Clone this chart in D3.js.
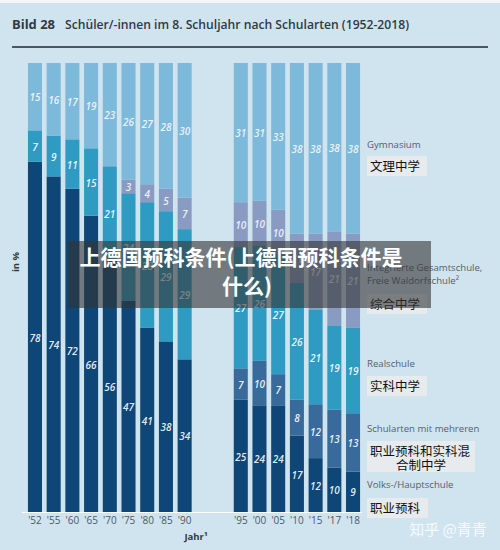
<!DOCTYPE html>
<html><head><meta charset="utf-8">
<script src="https://cdn.jsdelivr.net/npm/d3@7"></script>
<style>
html,body{margin:0;padding:0;background:#fff;}
svg{display:block;}
</style></head>
<body>
<svg id="c" width="500" height="550"></svg>
<script>
// ---- data ----
const years = ["'52","'55","'60","'65","'70","'75","'80","'85","'90","'95","'00","'05","'10","'15","'17","'18"];
const hauptschule = [78,74,72,66,56,47,41,38,34,25,24,24,17,12,10,9];
const mehrere     = [0,0,0,0,0,0,0,0,0,7,10,7,8,12,13,13];
const realschule  = [7,9,11,15,21,24,28,29,29,27,26,27,26,21,19,19];
const gesamt      = [0,0,0,0,0,3,4,5,7,10,10,10,11,17,21,21];
const gymnasium   = [15,16,17,19,23,26,27,28,30,31,31,33,38,38,38,38];
const seriesKeys = ["haupt","mehrere","real","gesamt","gym"];
const slots = ["'52","'55","'60","'65","'70","'75","'80","'85","'90","gapA","gapB","'95","'00","'05","'10","'15","'17","'18"];
const legendDe = [["Gymnasium"],["Integrierte Gesamtschule,","Freie Waldorfschule²"],["Realschule"],["Schularten mit mehreren"],["Volks-/Hauptschule"]];
const legendZh = [["文理中学"],["综合中学"],["实科中学"],["职业预科和实科混","合制中学"],["职业预科"]];

const rows = years.map((y,i)=>({year:y,haupt:hauptschule[i],mehrere:mehrere[i],real:realschule[i],gesamt:gesamt[i],gym:gymnasium[i]}));
const colors = {haupt:"#0d4677",mehrere:"#386b9c",real:"#2f9bc3",gesamt:"#8a9bc3",gym:"#7db9da"};

const svg = d3.select("#c");
svg.append("rect").attr("width",500).attr("height",550).attr("fill","#cfe4ef");
svg.append("rect").attr("width",500).attr("height",3).attr("fill","#f4f6f7");

// title
svg.append("text").attr("x",12).attr("y",29).attr("font-family","Open Sans").attr("font-weight",700)
  .attr("font-size",12).attr("fill","#2f3a44").attr("textLength",43).attr("lengthAdjust","spacingAndGlyphs").text("Bild 28");
svg.append("text").attr("x",65).attr("y",29).attr("font-family","Open Sans").attr("font-weight",600)
  .attr("font-size",12).attr("fill","#2f3a44").attr("textLength",344).attr("lengthAdjust","spacingAndGlyphs")
  .text("Schüler/-innen im 8. Schuljahr nach Schularten (1952-2018)");
svg.append("line").attr("x1",12).attr("x2",488).attr("y1",47).attr("y2",47).attr("stroke","#4b5661").attr("stroke-width",2);

const x = d3.scaleBand().domain(slots).range([25.6,362.4]).paddingInner(0.25).paddingOuter(0.125);
const y = d3.scaleLinear().domain([0,1]).range([512,63]);

const stack = d3.stack().keys(seriesKeys).offset(d3.stackOffsetExpand);
const stacked = stack(rows);

const g = svg.append("g");
stacked.forEach(s=>{
  const key = s.key;
  g.selectAll(null).data(s).join("rect")
    .attr("x",d=>x(d.data.year)).attr("width",x.bandwidth())
    .attr("y",d=>y(d[1])).attr("height",d=>Math.max(0,y(d[0])-y(d[1])))
    .attr("fill",colors[key]);
  g.selectAll(null).data(s.filter(d=>d.data[key]>0)).join("text")
    .attr("x",d=>x(d.data.year)+x.bandwidth()/2)
    .attr("y",d=>(y(d[0])+y(d[1]))/2+2)
    .attr("text-anchor","middle").attr("dominant-baseline","middle")
    .attr("font-family","Open Sans").attr("font-style","italic").attr("font-weight",600)
    .attr("font-size",10).attr("fill","#ffffff").attr("fill-opacity",key==="gym"||key==="gesamt"?0.85:0.9)
    .text(d=>d.data[key]);
});

// baseline
svg.append("line").attr("x1",22).attr("x2",362).attr("y1",512.5).attr("y2",512.5).attr("stroke","#ffffff").attr("stroke-width",1.2);

// x axis tick labels
const xAxis = d3.axisBottom(x).tickValues(years).tickSize(0).tickPadding(0);
const ax = svg.append("g").attr("transform","translate(0,515)").call(xAxis);
ax.select(".domain").remove();
ax.selectAll("text").attr("font-family","Open Sans").attr("font-size",10).attr("fill","#4d5963").attr("dy","0.9em");

svg.append("text").attr("x",196).attr("y",540).attr("text-anchor","middle").attr("font-family","Open Sans")
  .attr("font-weight",700).attr("font-size",9.5).attr("fill","#2f3a44").text("Jahr¹");
svg.append("text").attr("transform","translate(19,262) rotate(-90)").attr("text-anchor","middle")
  .attr("font-family","Open Sans").attr("font-weight",700).attr("font-size",9.5).attr("fill","#2f3a44").text("in %");

// legend
const legY = [148,271,367,432,488];
const boxY = [156,294,376,441,498];
const boxW = [60,60,60,108,61];
legendDe.forEach((lines,i)=>{
  lines.forEach((t,j)=>{
    svg.append("text").attr("x",367).attr("y",legY[i]+j*12.5).attr("font-family","Open Sans")
      .attr("font-size",9.6).attr("fill","#56616b").text(t);
  });
  const zh = legendZh[i];
  const bh = zh.length>1?31:20;
  const by = boxY[i];
  svg.append("rect").attr("x",367).attr("y",by).attr("width",boxW[i]).attr("height",bh).attr("fill","#e9ebec").attr("fill-opacity",0.9);
  zh.forEach((t,j)=>{
    svg.append("text").attr("x",zh.length>1?(j===0?370:421):370).attr("y",by+15+j*14)
      .attr("text-anchor",zh.length>1&&j===1?"middle":"start")
      .attr("font-family","Noto Sans CJK SC").attr("font-size",12.5).attr("fill","#111").text(t);
  });
});

// overlay caption
svg.append("rect").attr("x",68).attr("y",241).attr("width",363).attr("height",67).attr("fill","#333333").attr("fill-opacity",0.6);
svg.append("text").attr("x",241).attr("y",265).attr("text-anchor","middle").attr("font-family","Noto Sans CJK SC")
  .attr("font-weight",700).attr("font-size",21).attr("fill","#ffffff").text("上德国预科条件(上德国预科条件是");
svg.append("text").attr("x",247).attr("y",294).attr("text-anchor","middle").attr("font-family","Noto Sans CJK SC")
  .attr("font-weight",700).attr("font-size",21).attr("fill","#ffffff").text("什么)");

// watermark
svg.append("text").attr("x",448).attr("y",535).attr("text-anchor","middle").attr("font-family","Noto Sans CJK SC")
  .attr("font-size",15).attr("fill","#ffffff").attr("fill-opacity",0.85).text("知乎 @青青");
</script>
</body></html>
